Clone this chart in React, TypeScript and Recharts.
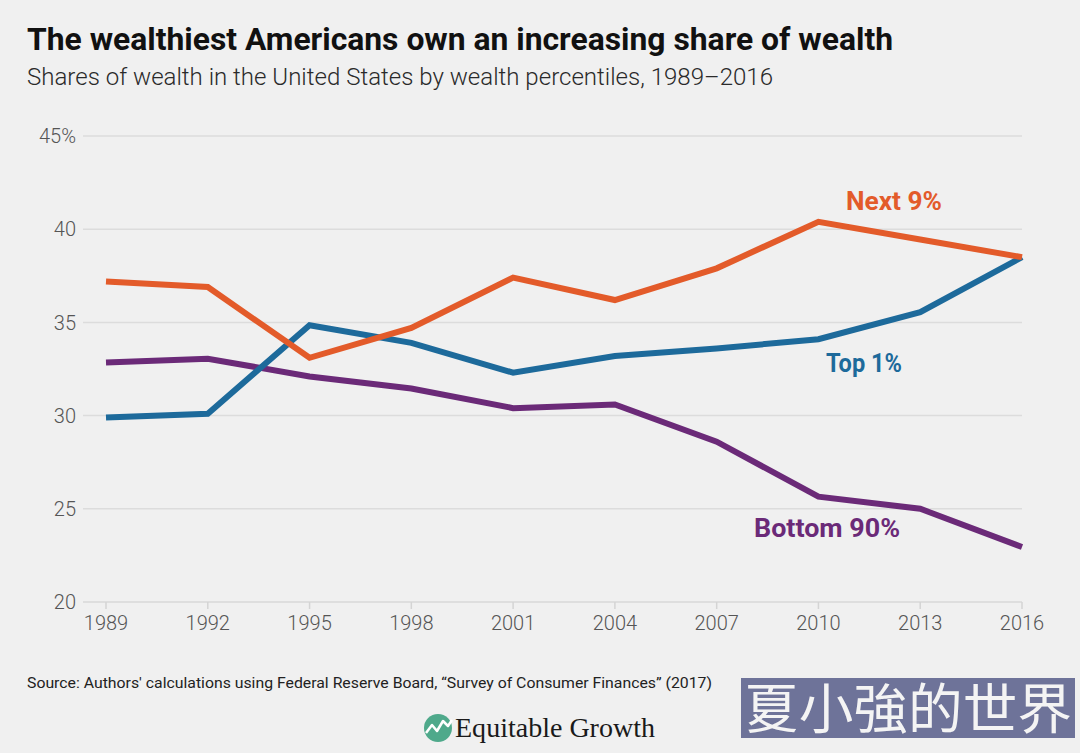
import React from 'react';
import { LineChart, Line, XAxis, YAxis, CartesianGrid } from 'recharts';

const years = ['1989', '1992', '1995', '1998', '2001', '2004', '2007', '2010', '2013', '2016'];
const next9 = [37.2, 36.9, 33.1, 34.7, 37.4, 36.2, 37.9, 40.4, 39.45, 38.5];
const top1 = [29.9, 30.1, 34.85, 33.9, 32.3, 33.2, 33.6, 34.1, 35.55, 38.5];
const bottom90 = [32.85, 33.05, 32.1, 31.45, 30.4, 30.6, 28.6, 25.65, 25.0, 22.95];
const yTicks = [20, 25, 30, 35, 40, 45];

const ORANGE = '#e35b2a';
const BLUE = '#1d6a9b';
const PURPLE = '#6b2a78';

const data = years.map((year, i) => ({
  year,
  next9: next9[i],
  top1: top1[i],
  bottom90: bottom90[i],
}));

const tickStyle = { fontFamily: 'Roboto', fontWeight: 300, fontSize: 20, fill: '#555' };

const App: React.FC = () => {
  return (
    <div style={{ position: 'absolute', top: 0, left: 0, width: 1080, height: 753, background: '#f0f0f0', overflow: 'hidden' }}>
      <div style={{ position: 'absolute', top: 0, left: 0 }}>
        <LineChart width={1080} height={660} data={data} margin={{ top: 136, right: 58, bottom: 18, left: 23 }}>
          <CartesianGrid vertical={false} stroke="#dcdcdc" strokeWidth={1.5} />
          <XAxis
            dataKey="year"
            padding={{ left: 23, right: 0 }}
            height={40}
            axisLine={{ stroke: '#dcdcdc', strokeWidth: 1.5 }}
            tickLine={{ stroke: '#d4d4d4', strokeWidth: 1.5 }}
            tickSize={7}
            tickMargin={7}
            tick={tickStyle}
            interval={0}
          />
          <YAxis
            domain={[20, 45]}
            ticks={yTicks}
            width={60}
            axisLine={false}
            tickLine={false}
            tickSize={0}
            tickMargin={7}
            tick={tickStyle}
            tickFormatter={(v) => (v === 45 ? '45%' : String(v))}
          />
          <Line type="linear" dataKey="bottom90" stroke={PURPLE} strokeWidth={6} dot={false} isAnimationActive={false} />
          <Line type="linear" dataKey="top1" stroke={BLUE} strokeWidth={6} dot={false} isAnimationActive={false} />
          <Line type="linear" dataKey="next9" stroke={ORANGE} strokeWidth={6} dot={false} isAnimationActive={false} />
        </LineChart>
      </div>
      <svg width={1080} height={753} style={{ position: 'absolute', top: 0, left: 0, pointerEvents: 'none' }}>
        <text x={27} y={50} fontFamily="Roboto" fontWeight={700} fontSize={32} fill="#111" textLength={866} lengthAdjust="spacingAndGlyphs">
          The wealthiest Americans own an increasing share of wealth
        </text>
        <text x={27} y={85} fontFamily="Roboto" fontWeight={300} fontSize={23} fill="#2a2a2a" textLength={746} lengthAdjust="spacingAndGlyphs">
          Shares of wealth in the United States by wealth percentiles, 1989–2016
        </text>

        <text x={846} y={210} fontFamily="Roboto" fontWeight={700} fontSize={25} fill={ORANGE} textLength={96} lengthAdjust="spacingAndGlyphs">
          Next 9%
        </text>
        <text x={826} y={372} fontFamily="Roboto" fontWeight={700} fontSize={25} fill={BLUE} textLength={76} lengthAdjust="spacingAndGlyphs">
          Top 1%
        </text>
        <text x={754} y={537} fontFamily="Roboto" fontWeight={700} fontSize={25} fill={PURPLE} textLength={146} lengthAdjust="spacingAndGlyphs">
          Bottom 90%
        </text>

        <text x={27} y={688} fontFamily="Roboto" fontWeight={400} fontSize={15} fill="#222" textLength={685} lengthAdjust="spacingAndGlyphs">
          Source: Authors' calculations using Federal Reserve Board, “Survey of Consumer Finances” (2017)
        </text>

        <circle cx={438} cy={728} r={14} fill="#4fa98b" />
        <polyline points="426,733 432,725 437,731 443,721 448,726 452,720" fill="none" stroke="#ffffff" strokeWidth={2.5} strokeLinejoin="round" />
        <text x={455} y={737} fontFamily="Liberation Serif" fontWeight={400} fontSize={28} fill="#1a1a1a" textLength={200} lengthAdjust="spacingAndGlyphs">
          Equitable Growth
        </text>

        <rect x={741} y={678} width={334} height={60} fill="#6e7399" />
        <text x={744} y={729} fontFamily="Noto Sans CJK TC" fontWeight={400} fontSize={54} fill="#f4f4f4" textLength={328} lengthAdjust="spacingAndGlyphs">
          夏小強的世界
        </text>
      </svg>
    </div>
  );
};

export default App;
